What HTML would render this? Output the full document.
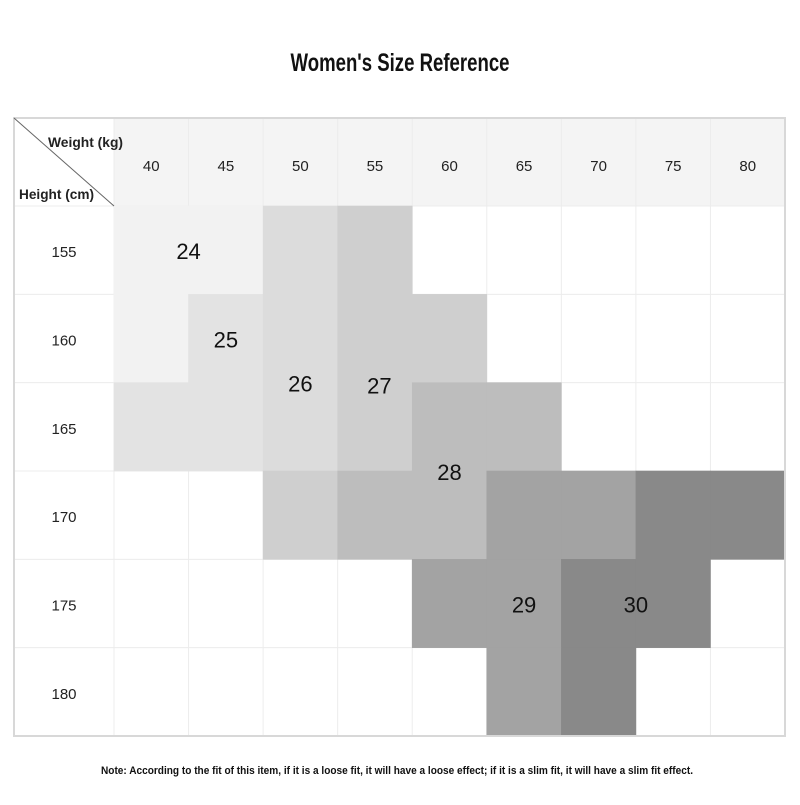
<!DOCTYPE html>
<html><head><meta charset="utf-8"><style>
body{margin:0;background:#fff;width:800px;height:800px;overflow:hidden;}
.narrow{font-family:"Liberation Sans Narrow","Liberation Sans",sans-serif;font-weight:bold;}
</style></head><body>
<svg id="chart" width="800" height="800">
<text x="400" y="71" text-anchor="middle" class="narrow" font-size="25" fill="#111" textLength="219" lengthAdjust="spacingAndGlyphs">Women's Size Reference</text>
<text x="397" y="774" text-anchor="middle" class="narrow" font-size="11" fill="#111" textLength="592" lengthAdjust="spacingAndGlyphs">Note: According to the fit of this item, if it is a loose fit, it will have a loose effect; if it is a slim fit, it will have a slim fit effect.</text>
<g id="bg"></g><g id="grid"></g><g id="cells"></g><g id="frame"></g><g id="labels"></g>
</svg>
<script>
const weights=[40,45,50,55,60,65,70,75,80];
const heights=[155,160,165,170,175,180];
const sizes=[
[24,24,26,27,0,0,0,0,0],
[24,25,26,27,27,0,0,0,0],
[25,25,26,27,28,28,0,0,0],
[0,0,27,28,28,29,29,30,30],
[0,0,0,0,29,29,30,30,0],
[0,0,0,0,0,29,30,0,0]];
const sizeLabels=[24,25,26,27,28,29,30];
const labelWeights=[42.5,45,50,55.3,60,65,72.5];
const labelHeights=[155,160,162.5,162.6,167.5,175,175];
const colors={24:'#f2f2f2',25:'#e3e3e3',26:'#dcdcdc',27:'#cfcfcf',28:'#bdbdbd',29:'#a3a3a3',30:'#898989'};
const NS='http://www.w3.org/2000/svg';
const X0=114,X1=785,Y0=206,Y1=736,L=14,T=118;
const cw=(X1-X0)/weights.length, rh=(Y1-Y0)/heights.length;
const xs=i=>X0+i*cw, ys=j=>Y0+j*rh;
const xw=w=>X0+((w-weights[0])/(weights[1]-weights[0])+0.5)*cw;
const yh=h=>Y0+((h-heights[0])/(heights[1]-heights[0])+0.5)*rh;
function mk(t,a,p){const e=document.createElementNS(NS,t);for(const k in a)e.setAttribute(k,a[k]);p.appendChild(e);return e;}
const bg=document.getElementById('bg'),cells=document.getElementById('cells'),grid=document.getElementById('grid'),frame=document.getElementById('frame'),labels=document.getElementById('labels');
mk('rect',{x:L,y:T,width:X1-L,height:Y0-T,fill:'#f4f4f4'},bg);
mk('rect',{x:L,y:T,width:X0-L,height:Y0-T,fill:'#fff'},bg);
for(let i=0;i<=weights.length;i++)mk('line',{x1:xs(i),y1:T,x2:xs(i),y2:Y1,stroke:'#ececec','stroke-width':1},grid);
for(let j=0;j<=heights.length;j++)mk('line',{x1:L,y1:ys(j),x2:X1,y2:ys(j),stroke:'#ececec','stroke-width':1},grid);
heights.forEach((h,j)=>weights.forEach((w,i)=>{const s=sizes[j][i];if(!s)return;
const r=mk('rect',{x:xs(i)-0.3,y:ys(j)-0.3,width:cw+0.6,height:rh+0.6,fill:colors[s]},cells);

}));
mk('rect',{x:L,y:T,width:X1-L,height:Y1-T,fill:'none',stroke:'#d8d8d8','stroke-width':2},frame);
mk('line',{x1:L,y1:T,x2:X0,y2:Y0,stroke:'#666','stroke-width':1},frame);
const wt=mk('text',{x:48,y:147,'font-size':14,fill:'#222',class:'narrow',textLength:75,lengthAdjust:'spacingAndGlyphs'},labels);wt.textContent='Weight (kg)';


const ht=mk('text',{x:19,y:199,'font-size':14,fill:'#222',class:'narrow',textLength:75,lengthAdjust:'spacingAndGlyphs'},labels);ht.textContent='Height (cm)';


weights.forEach((w,i)=>{const t=mk('text',{x:xs(i)+cw/2,y:171,'text-anchor':'middle','font-size':15,'font-family':'Liberation Sans, sans-serif',fill:'#222'},labels);t.textContent=w;

});
heights.forEach((h,j)=>{const t=mk('text',{x:64,y:ys(j)+rh/2+7,'text-anchor':'middle','font-size':15,'font-family':'Liberation Sans, sans-serif',fill:'#222'},labels);t.textContent=h;

});
sizeLabels.forEach((s,k)=>{const t=mk('text',{x:xw(labelWeights[k]),y:yh(labelHeights[k])+9,'text-anchor':'middle','font-size':22,'font-family':'Liberation Sans, sans-serif',fill:'#111'},labels);t.textContent=s;

});
</script>
</body></html>
